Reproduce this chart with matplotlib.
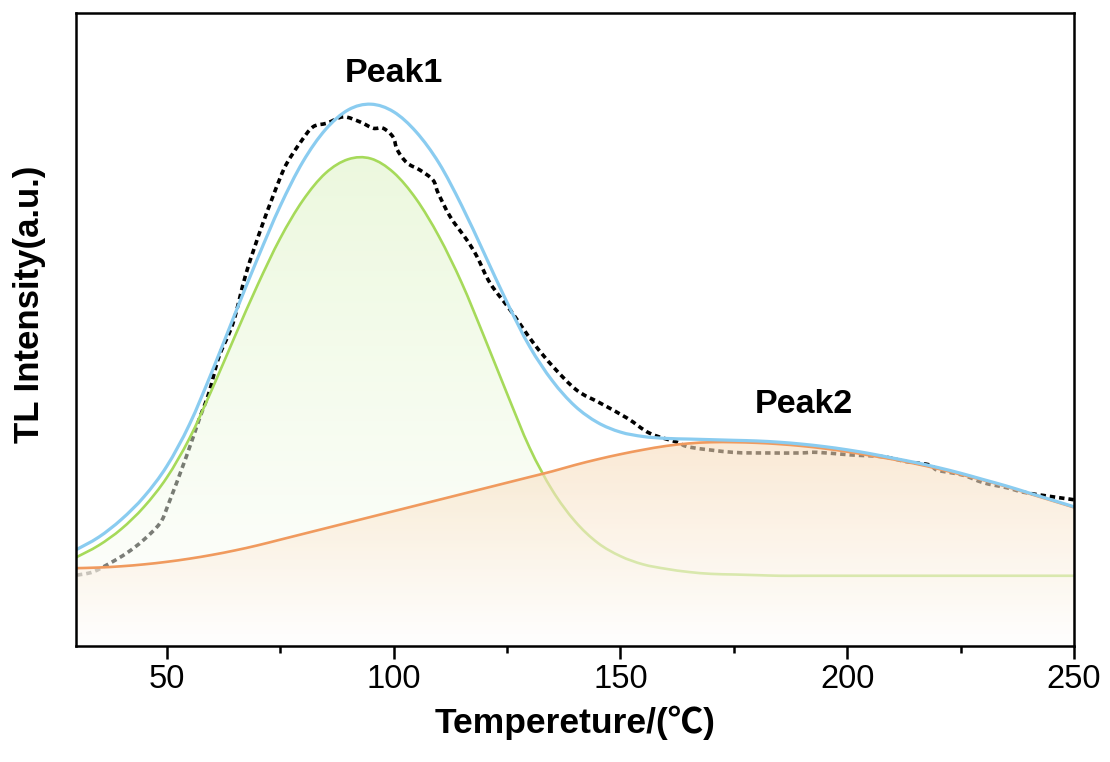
import numpy as np
import matplotlib
matplotlib.use("Agg")
import matplotlib.pyplot as plt
from matplotlib.patches import PathPatch
from matplotlib.path import Path
from matplotlib.ticker import MultipleLocator

plt.rcParams["font.family"] = ["Liberation Sans", "Noto Sans CJK SC", "DejaVu Sans"]

# Temperature grid of the fitted curves (deg C)
temp_fit = [30, 35, 40, 45, 50, 55, 60, 65, 70, 75, 80, 85, 90, 95, 100,
            105, 110, 115, 120, 125, 130, 135, 140, 145, 150, 155, 160, 165,
            170, 175, 180, 185, 190, 195, 200, 205, 210, 215, 220, 225, 230,
            235, 240, 245, 250]

# Peak 1 component
peak1 = [14.0, 15.9, 18.5, 22.0, 26.6, 32.8, 40.6, 48.9, 57.0, 64.4, 70.4,
         74.7, 76.9, 77.0, 74.8, 70.6, 64.7, 57.4, 48.8, 39.9, 31.3, 24.6,
         19.7, 16.3, 14.2, 12.9, 12.2, 11.7, 11.4, 11.3, 11.2, 11.1, 11.1,
         11.1, 11.1, 11.1, 11.1, 11.1, 11.1, 11.1, 11.1, 11.1, 11.1, 11.1,
         11.1]

# Peak 2 component
peak2 = [12.3, 12.4, 12.6, 12.9, 13.3, 13.8, 14.4, 15.1, 15.9, 16.8, 17.7,
         18.6, 19.5, 20.4, 21.3, 22.2, 23.1, 24.0, 24.9, 25.8, 26.7, 27.6,
         28.6, 29.5, 30.3, 31.0, 31.6, 32.0, 32.2, 32.2, 32.1, 31.9, 31.6,
         31.2, 30.7, 30.1, 29.5, 28.8, 28.0, 27.1, 26.2, 25.2, 24.1, 23.0,
         21.9]

# Cumulative fit
fit_sum = [15.2, 17.2, 20.0, 23.6, 28.4, 35.0, 43.4, 52.4, 61.2, 69.5, 76.5,
           81.6, 84.7, 85.6, 84.4, 81.2, 76.3, 69.6, 62.0, 54.3, 47.3, 41.9,
           37.9, 35.3, 33.8, 33.1, 32.8, 32.7, 32.6, 32.5, 32.4, 32.2, 31.9,
           31.5, 31.0, 30.4, 29.7, 29.0, 28.2, 27.3, 26.3, 25.3, 24.2, 23.1,
           22.0]

# Measured glow curve
temp_meas = [30.2, 33.7, 37.5, 41.2, 44.8, 48.5, 50.3, 54.3, 57.1, 59.3,
             61.5, 64.6, 67.5, 71.2, 74.8, 76.5, 79.4, 82.2, 85.3, 88.9,
             92.6, 95.5, 97.7, 99.9, 100.8, 103.0, 105.8, 108.7, 109.8,
             112.5, 116.2, 118.4, 121.3, 125.7, 130.8, 135.2, 140.4, 145.5,
             151.5, 156.5, 162.5, 165.4, 174.8, 182.3, 189.6, 193.4, 200.6,
             207.9, 213.2, 218.3, 219.8, 225.5, 230.0, 235.2, 238.8, 244.1,
             249.1, 250.0]
tl_meas = [11.2, 11.7, 13.1, 14.7, 16.7, 19.4, 22.3, 29.9, 35.7, 40.0, 45.7,
           51.0, 58.9, 66.8, 73.6, 76.3, 79.5, 82.0, 82.6, 83.6, 82.8, 81.8,
           81.8, 80.4, 78.4, 76.3, 75.2, 73.6, 71.6, 67.8, 64.1, 61.5, 57.3,
           53.1, 47.9, 44.1, 40.4, 38.4, 36.0, 33.6, 32.2, 31.4, 30.6, 30.5,
           30.5, 30.6, 30.2, 29.9, 29.1, 28.6, 27.8, 27.0, 25.8, 25.0, 24.3,
           23.7, 23.2, 23.1]

BLUE = "#8ACCF0"
GREEN = "#A6DA5A"
ORANGE = "#F09A5E"


def spline_path(x, y, close_to=None):
    """Catmull-Rom spline through the points, as cubic Bezier segments."""
    p = np.column_stack([np.asarray(x, float), np.asarray(y, float)])
    ext = np.vstack([p[0], p, p[-1]])
    verts = [p[0]]
    codes = [Path.MOVETO]
    for i in range(len(p) - 1):
        p0, p1, p2, p3 = ext[i], ext[i + 1], ext[i + 2], ext[i + 3]
        verts += [p1 + (p2 - p0) / 6.0, p2 - (p3 - p1) / 6.0, p2]
        codes += [Path.CURVE4] * 3
    if close_to is not None:
        verts += [(p[-1, 0], close_to), (p[0, 0], close_to), p[0]]
        codes += [Path.LINETO, Path.LINETO, Path.CLOSEPOLY]
    return Path(np.array(verts), codes)


def draw_curve(ax, x, y, **kw):
    patch = PathPatch(spline_path(x, y), fill=False, joinstyle="round", **kw)
    ax.add_patch(patch)
    return patch


def gradient_fill(ax, x, y, top_rgb, alpha, zorder):
    """Fill under a curve with a vertical gradient fading to white."""
    clip = PathPatch(spline_path(x, y, close_to=0.0), transform=ax.transData,
                     facecolor="none", edgecolor="none")
    ax.add_patch(clip)
    n = 256
    t = np.linspace(0, 1, n)[:, None, None]
    rgb = np.array(top_rgb, float) / 255.0
    img = np.zeros((n, 1, 4))
    img[..., :3] = (1 - t) * 1.0 + t * rgb
    img[..., 3] = alpha
    im = ax.imshow(img, extent=[min(x), max(x), 0, max(y)],
                   origin="lower", aspect="auto", zorder=zorder,
                   interpolation="bilinear")
    im.set_clip_path(clip)
    return im


fig = plt.figure(figsize=(11.10, 7.62), dpi=100)
ax = fig.add_axes([0.0685, 0.1522, 0.8991, 0.8307])

# measured data sits beneath the semi-transparent component fills
draw_curve(ax, temp_meas, tl_meas, edgecolor="black", lw=2.6,
           linestyle=(0, (1.5, 1.1)), zorder=1)

gradient_fill(ax, temp_fit, peak1, (218, 242, 190), 0.5, zorder=2)
draw_curve(ax, temp_fit, peak1, edgecolor=GREEN, lw=1.9, zorder=3)
gradient_fill(ax, temp_fit, peak2, (247, 220, 186), 0.6, zorder=4)
draw_curve(ax, temp_fit, peak2, edgecolor=ORANGE, lw=1.9, zorder=5)
draw_curve(ax, temp_fit, fit_sum, edgecolor=BLUE, lw=2.3, zorder=6)

ax.text(100.1, 90.5, "Peak1", fontsize=24.5, fontweight="bold",
        ha="center", va="center")
ax.text(190.5, 38.2, "Peak2", fontsize=24.5, fontweight="bold",
        ha="center", va="center")

ax.set_xlim(30, 250)
ax.set_ylim(0, 100)
ax.xaxis.set_major_locator(MultipleLocator(50))
ax.xaxis.set_minor_locator(MultipleLocator(25))
ax.set_yticks([])
ax.tick_params(axis="x", which="major", direction="out", length=9.4,
               width=1.8, labelsize=23.5, pad=3.5)
ax.tick_params(axis="x", which="minor", direction="out", length=4.7,
               width=1.8)
for sp in ax.spines.values():
    sp.set_linewidth(1.8)
    sp.set_zorder(10)

ax.set_xlabel("Tempereture/(℃)", fontsize=25.5, fontweight="bold", labelpad=8)
ax.set_ylabel("TL Intensity(a.u.)", fontsize=25, fontweight="bold")
ax.yaxis.set_label_coords(-0.03, 0.54)

fig.savefig("out.png", dpi=100)
